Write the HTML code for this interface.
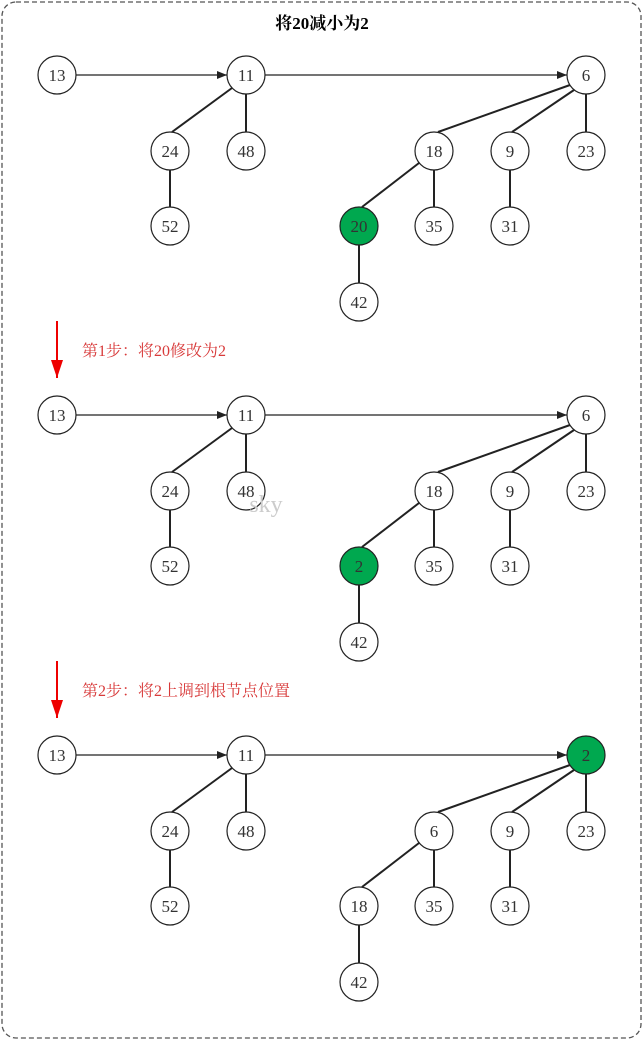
<!DOCTYPE html>
<html><head><meta charset="utf-8"><style>
html,body{margin:0;padding:0;background:#fff;width:643px;height:1040px;overflow:hidden}
text{font-family:"Liberation Serif","Noto Serif CJK SC",serif}
</style></head><body>
<svg width="643" height="1040" viewBox="0 0 643 1040" xmlns="http://www.w3.org/2000/svg">
<defs>
<marker id="ah" markerWidth="10" markerHeight="8" refX="10" refY="4" orient="auto" markerUnits="userSpaceOnUse"><path d="M0,0 L10,4 L0,8 z" fill="#222"/></marker>
<marker id="rh" markerWidth="12" markerHeight="18" refX="6" refY="18" orient="0" markerUnits="userSpaceOnUse"><path d="M0,0 L12,0 L6,18 z" fill="#e00"/></marker>
</defs>
<rect x="2" y="2" width="639" height="1036" rx="14" fill="none" stroke="#555" stroke-width="1.3" stroke-dasharray="5,3"/>
<text x="322" y="29" text-anchor="middle" font-size="17" font-weight="bold" font-family="Liberation Sans,Noto Sans CJK SC,sans-serif">将20减小为2</text>

<g stroke="#222" stroke-width="2" fill="none">
<g>
<line x1="76" y1="75" x2="227" y2="75" stroke-width="1.2" marker-end="url(#ah)"/>
<line x1="265" y1="75" x2="567" y2="75" stroke-width="1.2" marker-end="url(#ah)"/>
<line x1="232" y1="88" x2="172" y2="132"/><line x1="246" y1="94" x2="246" y2="132"/>
<line x1="170" y1="170" x2="170" y2="207"/>
<line x1="570" y1="85" x2="438" y2="132"/><line x1="574" y1="90" x2="512" y2="132"/><line x1="586" y1="94" x2="586" y2="132"/>
<line x1="419" y1="163" x2="362" y2="207"/><line x1="434" y1="170" x2="434" y2="207"/>
<line x1="510" y1="170" x2="510" y2="207"/><line x1="359" y1="245" x2="359" y2="283"/>
</g>
<g transform="translate(0,340)">
<line x1="76" y1="75" x2="227" y2="75" stroke-width="1.2" marker-end="url(#ah)"/>
<line x1="265" y1="75" x2="567" y2="75" stroke-width="1.2" marker-end="url(#ah)"/>
<line x1="232" y1="88" x2="172" y2="132"/><line x1="246" y1="94" x2="246" y2="132"/>
<line x1="170" y1="170" x2="170" y2="207"/>
<line x1="570" y1="85" x2="438" y2="132"/><line x1="574" y1="90" x2="512" y2="132"/><line x1="586" y1="94" x2="586" y2="132"/>
<line x1="419" y1="163" x2="362" y2="207"/><line x1="434" y1="170" x2="434" y2="207"/>
<line x1="510" y1="170" x2="510" y2="207"/><line x1="359" y1="245" x2="359" y2="283"/>
</g>
<g transform="translate(0,680)">
<line x1="76" y1="75" x2="227" y2="75" stroke-width="1.2" marker-end="url(#ah)"/>
<line x1="265" y1="75" x2="567" y2="75" stroke-width="1.2" marker-end="url(#ah)"/>
<line x1="232" y1="88" x2="172" y2="132"/><line x1="246" y1="94" x2="246" y2="132"/>
<line x1="170" y1="170" x2="170" y2="207"/>
<line x1="570" y1="85" x2="438" y2="132"/><line x1="574" y1="90" x2="512" y2="132"/><line x1="586" y1="94" x2="586" y2="132"/>
<line x1="419" y1="163" x2="362" y2="207"/><line x1="434" y1="170" x2="434" y2="207"/>
<line x1="510" y1="170" x2="510" y2="207"/><line x1="359" y1="245" x2="359" y2="283"/>
</g>
</g>

<g stroke="#222" stroke-width="1.2" fill="#fff">
<circle cx="57" cy="75" r="19"/><circle cx="246" cy="75" r="19"/><circle cx="586" cy="75" r="19"/>
<circle cx="170" cy="151" r="19"/><circle cx="246" cy="151" r="19"/><circle cx="434" cy="151" r="19"/><circle cx="510" cy="151" r="19"/><circle cx="586" cy="151" r="19"/>
<circle cx="170" cy="226" r="19"/><circle cx="359" cy="226" r="19" fill="#00a84f"/><circle cx="434" cy="226" r="19"/><circle cx="510" cy="226" r="19"/>
<circle cx="359" cy="302" r="19"/>

<circle cx="57" cy="415" r="19"/><circle cx="246" cy="415" r="19"/><circle cx="586" cy="415" r="19"/>
<circle cx="170" cy="491" r="19"/><circle cx="246" cy="491" r="19"/><circle cx="434" cy="491" r="19"/><circle cx="510" cy="491" r="19"/><circle cx="586" cy="491" r="19"/>
<circle cx="170" cy="566" r="19"/><circle cx="359" cy="566" r="19" fill="#00a84f"/><circle cx="434" cy="566" r="19"/><circle cx="510" cy="566" r="19"/>
<circle cx="359" cy="642" r="19"/>

<circle cx="57" cy="755" r="19"/><circle cx="246" cy="755" r="19"/><circle cx="586" cy="755" r="19" fill="#00a84f"/>
<circle cx="170" cy="831" r="19"/><circle cx="246" cy="831" r="19"/><circle cx="434" cy="831" r="19"/><circle cx="510" cy="831" r="19"/><circle cx="586" cy="831" r="19"/>
<circle cx="170" cy="906" r="19"/><circle cx="359" cy="906" r="19"/><circle cx="434" cy="906" r="19"/><circle cx="510" cy="906" r="19"/>
<circle cx="359" cy="982" r="19"/>
</g>

<g font-size="17" fill="#333" text-anchor="middle">
<text x="57" y="81">13</text><text x="246" y="81">11</text><text x="586" y="81">6</text>
<text x="170" y="157">24</text><text x="246" y="157">48</text><text x="434" y="157">18</text><text x="510" y="157">9</text><text x="586" y="157">23</text>
<text x="170" y="232">52</text><text x="359" y="232">20</text><text x="434" y="232">35</text><text x="510" y="232">31</text>
<text x="359" y="308">42</text>

<text x="57" y="421">13</text><text x="246" y="421">11</text><text x="586" y="421">6</text>
<text x="170" y="497">24</text><text x="246" y="497">48</text><text x="434" y="497">18</text><text x="510" y="497">9</text><text x="586" y="497">23</text>
<text x="170" y="572">52</text><text x="359" y="572">2</text><text x="434" y="572">35</text><text x="510" y="572">31</text>
<text x="359" y="648">42</text>

<text x="57" y="761">13</text><text x="246" y="761">11</text><text x="586" y="761">2</text>
<text x="170" y="837">24</text><text x="246" y="837">48</text><text x="434" y="837">6</text><text x="510" y="837">9</text><text x="586" y="837">23</text>
<text x="170" y="912">52</text><text x="359" y="912">18</text><text x="434" y="912">35</text><text x="510" y="912">31</text>
<text x="359" y="988">42</text>
</g>
<text x="266" y="512" font-size="24" fill="#ccc" text-anchor="middle">sky</text>

<line x1="57" y1="321" x2="57" y2="378" stroke="#e00" stroke-width="2" marker-end="url(#rh)"/>
<line x1="57" y1="661" x2="57" y2="718" stroke="#e00" stroke-width="2" marker-end="url(#rh)"/>
<text x="82" y="356" font-size="16" fill="#d83a3a">第1步：将20修改为2</text>
<text x="82" y="696" font-size="16" fill="#d83a3a">第2步：将2上调到根节点位置</text>
</svg>
</body></html>
